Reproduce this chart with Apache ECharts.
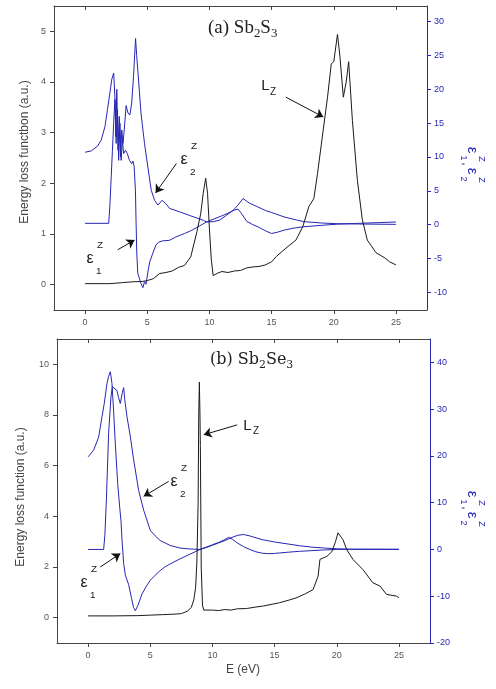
<!DOCTYPE html>
<html><head><meta charset="utf-8">
<script src="https://cdn.jsdelivr.net/npm/echarts@6/dist/echarts.min.js"></script>
<style>html,body{margin:0;padding:0;background:#fff}#c{width:496px;height:689px}</style>
</head><body><div id="c"></div>
<script>
// ---- tick values ----
const xTicks = [0, 5, 10, 15, 20, 25];
const aLeftTicks = [0, 1, 2, 3, 4, 5];
const aRightTicks = [-10, -5, 0, 5, 10, 15, 20, 25, 30];
const bLeftTicks = [0, 2, 4, 6, 8, 10];
const bRightTicks = [-20, -10, 0, 10, 20, 30, 40];

// ---- (a) Sb2S3 : [E (eV), value] ----
const aLossZ = [[0,0.02],[2,0.02],[2.5,0.03],[3,0.04],[4,0.06],[4.5,0.06],[5,0.08],[5.5,0.12],[6,0.22],[6.5,0.24],[7,0.27],[7.5,0.34],[8,0.38],[8.5,0.55],[9,1.05],[9.3,1.4],[9.5,1.8],[9.7,2.1],[9.85,1.8],[10,1.1],[10.15,0.5],[10.3,0.18],[10.6,0.22],[11,0.26],[11.5,0.24],[12,0.27],[12.5,0.28],[13,0.33],[13.5,0.35],[14,0.36],[14.5,0.39],[15,0.45],[15.4,0.56],[16.15,0.72],[16.96,0.88],[17.5,1.14],[18,1.54],[18.4,1.7],[18.7,2.2],[19.15,3.05],[19.5,3.7],[19.8,4.36],[20.0,4.4],[20.3,4.94],[20.5,4.5],[20.77,3.7],[21.0,4.0],[21.2,4.4],[21.5,3.24],[21.9,2.06],[22.3,1.28],[22.7,0.88],[23.4,0.63],[24.1,0.53],[24.5,0.45],[25,0.39]];
const aEps1 = [[0,10.7],[0.5,10.9],[1.0,11.6],[1.3,12.5],[1.6,14.5],[1.8,17],[2.0,19.5],[2.15,21.5],[2.3,22.4],[2.42,18],[2.5,12],[2.6,17],[2.7,9.5],[2.8,15],[2.9,9.5],[3.0,12.5],[3.1,10.5],[3.25,11],[3.4,10.5],[3.57,9.5],[3.75,9.0],[3.85,9.4],[3.95,8.5],[4.05,5],[4.1,0.5],[4.16,-4.3],[4.24,-7.2],[4.38,-7.0],[4.5,-8.7],[4.65,-9.3],[4.78,-8.4],[4.9,-8.8],[5.05,-7.0],[5.2,-5.5],[5.45,-4.2],[5.7,-3.0],[5.9,-2.6],[6.2,-2.4],[6.8,-2.3],[7.3,-1.8],[8,-1.3],[8.5,-0.9],[9,-0.4],[9.76,0.4],[10.3,0.8],[11,1.3],[11.5,1.7],[11.9,2.1],[12.3,2.3],[12.6,1.6],[13,0.5],[13.5,0.0],[14,-0.4],[14.5,-0.9],[15,-1.3],[15.5,-1.1],[16,-0.8],[16.8,-0.5],[17.6,-0.3],[19,-0.1],[20.2,0.07],[22,0.2],[23.5,0.3],[25,0.4]];
const aEps2 = [[0,0.2],[1.9,0.2],[2.0,3],[2.1,7],[2.2,11],[2.3,15],[2.4,18.5],[2.48,13],[2.55,20],[2.65,11],[2.75,16],[2.85,10],[2.95,14],[3.05,12],[3.15,14],[3.3,17.6],[3.45,16.5],[3.6,16.2],[3.75,18],[3.9,22],[4.06,27.5],[4.15,25],[4.24,22.8],[4.5,16.4],[4.78,12.0],[5.05,8.5],[5.32,5.1],[5.59,3.6],[5.86,2.9],[6.0,3.0],[6.2,3.6],[6.5,3.1],[6.8,2.4],[7.6,1.9],[8.5,1.3],[9.5,0.66],[9.76,0.4],[10.3,0.45],[10.8,0.66],[11.3,1.3],[11.9,2.1],[12.3,2.9],[12.7,3.87],[13.2,3.2],[13.8,2.7],[14.5,2.1],[15,1.8],[16,1.15],[17,0.7],[17.6,0.45],[19,0.25],[20.2,0.15],[22,0.1],[25,0.05]];

// ---- (b) Sb2Se3 ----
const bLossZ = [[0,0.07],[2,0.07],[4,0.08],[5,0.1],[6,0.12],[7,0.14],[7.5,0.16],[8,0.26],[8.3,0.4],[8.5,0.7],[8.65,1.2],[8.75,2.2],[8.85,4.5],[8.9,8.0],[8.95,9.3],[9.0,8.0],[9.03,6.8],[9.1,2.0],[9.2,0.5],[9.3,0.3],[10,0.3],[10.5,0.28],[11,0.32],[11.5,0.3],[12,0.35],[12.74,0.36],[13.5,0.42],[14.1,0.46],[15.4,0.59],[16.2,0.7],[16.8,0.79],[17.5,0.95],[18.1,1.11],[18.5,1.64],[18.65,2.3],[19.2,2.42],[19.6,2.6],[19.9,3.0],[20.1,3.35],[20.5,3.08],[20.8,2.69],[21.3,2.3],[22.1,1.9],[22.9,1.38],[23.5,1.24],[24,0.92],[24.8,0.85],[25,0.79]];
const bEps1 = [[0,19.8],[0.44,21.2],[0.85,24],[1.12,28.4],[1.3,31.2],[1.52,35.5],[1.65,37],[1.79,38],[1.92,35.5],[2.05,29.8],[2.19,22.6],[2.38,14.1],[2.54,9.1],[2.65,6],[2.73,2],[2.86,-3],[3.0,-5.5],[3.26,-7.5],[3.5,-10.5],[3.66,-12.4],[3.8,-13.1],[4.0,-12],[4.34,-9.5],[4.7,-7.8],[5.0,-6.6],[5.4,-5.5],[5.8,-4.5],[6.2,-3.7],[6.6,-3.1],[7.4,-2.0],[8.2,-1.0],[9.0,0],[9.5,0.5],[10,1.0],[10.5,1.5],[11,2.1],[11.3,2.6],[11.6,2.2],[12,1.4],[12.5,0.6],[13,0.0],[13.5,-0.5],[14,-0.8],[14.5,-0.9],[15,-0.85],[16,-0.6],[17,-0.4],[18,-0.25],[19,-0.1],[20,0],[21,0.05],[25,0.05]];
const bEps2 = [[0,0],[1.25,0],[1.35,3],[1.47,10.5],[1.65,24.8],[1.84,32.6],[1.95,34.8],[2.05,34.4],[2.32,34],[2.45,32.5],[2.59,31.2],[2.75,33.5],[2.86,34.6],[2.95,32],[3.13,28.4],[3.4,24.1],[3.67,19.1],[4.07,12.6],[4.47,8.4],[5.0,4.1],[5.4,2.9],[5.8,1.9],[6.6,0.86],[7.4,0.3],[8.2,0.1],[9.0,0],[9.5,0.4],[10,0.9],[10.5,1.4],[11,1.9],[11.5,2.5],[12,3.0],[12.5,3.2],[13,2.9],[14,2.1],[15,1.6],[16,1.2],[17,0.8],[18,0.5],[19,0.3],[20,0.15],[21,0.05],[25,0.0]];

// ---- annotation arrows, in (E, left-axis) coordinates: [tail, head] ----
const aArrows = [[[7.34,2.39],[5.67,1.81]], [[2.63,0.69],[3.98,0.88]], [[16.15,3.70],[19.16,3.31]]];
const bArrows = [[[11.99,7.61],[9.3,7.22]], [[6.48,5.38],[4.47,4.79]], [[0.98,2.0],[2.59,2.53]]];

const BLUE = '#2626b4';
const AXC = '#444';
const LBL = '#555';

function xAxes(gi) {
  return [
    { gridIndex: gi, type: 'value', min: -2.5, max: 27.5, position: 'bottom',
      axisLine: { show: true, onZero: false, lineStyle: { color: AXC } },
      axisTick: { show: true, length: 4, customValues: xTicks, lineStyle: { color: AXC } },
      axisLabel: { customValues: xTicks, fontSize: 9, color: LBL, margin: 8, fontFamily: 'Liberation Sans' },
      splitLine: { show: false } },
    { gridIndex: gi, type: 'value', min: -2.5, max: 27.5, position: 'top',
      axisLine: { show: true, onZero: false, lineStyle: { color: AXC } },
      axisTick: { show: true, inside: true, length: 4, customValues: xTicks, lineStyle: { color: AXC } },
      axisLabel: { show: false }, splitLine: { show: false } }
  ];
}
function yAxes(gi, lmin, lmax, lt, rmin, rmax, rt) {
  return [
    { gridIndex: gi, type: 'value', min: lmin, max: lmax, position: 'left',
      axisLine: { show: true, onZero: false, lineStyle: { color: AXC } },
      axisTick: { show: true, length: 4, customValues: lt, lineStyle: { color: AXC } },
      axisLabel: { customValues: lt, fontSize: 9, color: LBL, margin: 8, fontFamily: 'Liberation Sans' },
      splitLine: { show: false } },
    { gridIndex: gi, type: 'value', min: rmin, max: rmax, position: 'right',
      axisLine: { show: true, onZero: false, lineStyle: { color: BLUE } },
      axisTick: { show: true, length: 4, customValues: rt, lineStyle: { color: BLUE } },
      axisLabel: { customValues: rt, fontSize: 9, color: BLUE, margin: 7, fontFamily: 'Liberation Sans' },
      splitLine: { show: false } }
  ];
}
function arrowLine(arr) {
  return { silent: true, symbol: ['none', 'arrow'], symbolSize: 8, label: { show: false },
    lineStyle: { color: '#111', width: 1, type: 'solid' }, itemStyle: { color: '#111' },
    emphasis: { disabled: true }, animation: false,
    data: arr.map(p => [{ coord: p[0] }, { coord: p[1] }]) };
}
function line(data, xi, yi, color, ml) {
  const s = { type: 'line', data: data, xAxisIndex: xi, yAxisIndex: yi, showSymbol: false,
    symbol: 'none', lineStyle: { width: 1, color: color }, itemStyle: { color: color },
    silent: true, animation: false, z: 2 };
  if (ml) s.markLine = ml;
  return s;
}

// text helpers
const SANS = 'Liberation Sans';
function txt(x, y, text, size, opts) {
  opts = opts || {};
  return { type: 'text', x: x, y: y, rotation: opts.rot || 0, silent: true,
    style: { text: text, fontSize: size, fontFamily: opts.font || SANS, fontWeight: 'normal',
      fill: opts.color || '#222', align: opts.align || 'center', verticalAlign: 'middle',
      textAlign: opts.align || 'center', textVerticalAlign: 'middle' } };
}
function epsLabel(x, y, idx, color, size) {
  const s = size || 16;
  return [
    txt(x, y, 'ε', s, { color }),
    txt(x + s * 0.62, y - s * 0.85, 'Z', s * 0.62, { color }),
    txt(x + s * 0.55, y + s * 0.75, String(idx), s * 0.62, { color })
  ];
}
function title(x, y, parts, font, size) {
  const ch = [];
  let cx = x;
  const ctx = document.createElement('canvas').getContext('2d');
  parts.forEach(p => {
    const fs = p[1] ? size * 0.68 : size;
    ctx.font = fs + 'px "' + font + '"';
    ch.push({ type: 'text', x: cx, y: p[1] ? y + size * 0.3 : y, silent: true,
      style: { text: p[0], fontSize: fs, fontFamily: font, fill: '#222', align: 'left', textAlign: 'left',
        verticalAlign: 'middle', textVerticalAlign: 'middle' } });
    cx += ctx.measureText(p[0]).width;
  });
  return ch;
}
function rightName(cx, cy) {
  const c = BLUE;
  const mk = (x, y, t, fs) => ({ type: 'text', x: x, y: y, silent: true,
    style: { text: t, fontSize: fs, fontFamily: SANS, fill: c, align: 'center', textAlign: 'center',
      verticalAlign: 'middle', textVerticalAlign: 'middle' } });
  return { type: 'group', x: cx, y: cy, rotation: -Math.PI / 2, silent: true,
    children: [
      mk(-16, 0, 'ε', 15), mk(-8, 9, '1', 9), mk(-7, -9, 'Z', 9),
      mk(-2, 6, ',', 12),
      mk(5, 0, 'ε', 15), mk(13, 9, '2', 9), mk(14, -9, 'Z', 9)
    ] };
}

const graphics = [].concat(
  title(208, 28, [['(a) Sb', false], ['2', true], ['S', false], ['3', true]], 'Liberation Serif', 19),
  title(210, 360, [['(b) Sb', false], ['2', true], ['Se', false], ['3', true]], 'DejaVu Serif', 16),
  [txt(25, 152, 'Energy loss functbon (a.u.)', 12, { rot: Math.PI / 2, color: '#444' }),
   txt(21, 497, 'Energy loss function (a.u.)', 12, { rot: Math.PI / 2, color: '#444' }),
   txt(243, 670, 'E (eV)', 12, { color: '#444' }),
   rightName(472, 166), rightName(472, 510),
   txt(265.5, 86, 'L', 15), txt(273, 92, 'Z', 10),
   txt(247.5, 426, 'L', 15), txt(256, 431, 'Z', 10)],
  epsLabel(184, 160, 2, '#222'),
  epsLabel(90, 259, 1, '#222'),
  epsLabel(174, 482, 2, '#222'),
  epsLabel(84, 583, 1, '#222')
);

const option = {
  backgroundColor: '#fff',
  animation: false,
  grid: [
    { left: 54, top: 6, width: 373, height: 304 },
    { left: 57, top: 339, width: 373, height: 304 }
  ],
  xAxis: [].concat(xAxes(0), xAxes(1)),
  yAxis: [].concat(yAxes(0, -0.5, 5.5, aLeftTicks, -12.6, 32.3, aRightTicks),
                   yAxes(1, -1, 11, bLeftTicks, -20, 45, bRightTicks)),
  series: [
    line(aEps1, 0, 1, BLUE),
    line(aEps2, 0, 1, BLUE),
    line(aLossZ, 0, 0, '#1a1a1a', arrowLine(aArrows)),
    line(bEps1, 2, 3, BLUE),
    line(bEps2, 2, 3, BLUE),
    line(bLossZ, 2, 2, '#1a1a1a', arrowLine(bArrows))
  ],
  graphic: { elements: graphics }
};
const chart = echarts.init(document.getElementById('c'));
chart.setOption(option);
</script>
</body></html>
